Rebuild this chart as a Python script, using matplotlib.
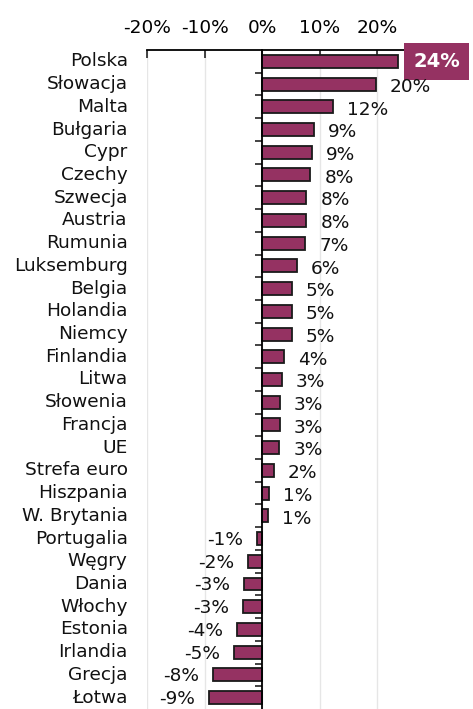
import numpy as np
import matplotlib.pyplot as plt

countries = ['Polska', 'Słowacja', 'Malta', 'Bułgaria', 'Cypr', 'Czechy', 'Szwecja',
             'Austria', 'Rumunia', 'Luksemburg', 'Belgia', 'Holandia', 'Niemcy',
             'Finlandia', 'Litwa', 'Słowenia', 'Francja', 'UE', 'Strefa euro',
             'Hiszpania', 'W. Brytania', 'Portugalia', 'Węgry', 'Dania', 'Włochy',
             'Estonia', 'Irlandia', 'Grecja', 'Łotwa']
values = [23.6, 19.8, 12.4, 9.0, 8.7, 8.4, 7.7, 7.7, 7.5, 6.1, 5.2, 5.2, 5.2,
          3.8, 3.4, 3.1, 3.1, 3.0, 2.1, 1.2, 1.0, -0.9, -2.5, -3.2, -3.3,
          -4.3, -4.8, -8.5, -9.2]
labels = ['24%', '20%', '12%', '9%', '9%', '8%', '8%', '8%', '7%', '6%', '5%', '5%',
          '5%', '4%', '3%', '3%', '3%', '3%', '2%', '1%', '1%', '-1%', '-2%', '-3%',
          '-3%', '-4%', '-5%', '-8%', '-9%']
xticks = [-20, -10, 0, 10, 20]

bar_color = '#953262'
fs = 13.3

fig = plt.figure(figsize=(4.73, 7.09), dpi=100)
ax = fig.add_axes([0.311, 0.0, 0.547, 0.9295])

y = np.arange(len(countries))
ax.barh(y, values, height=0.57, color=bar_color, edgecolor='#1a1a1a', linewidth=1.3, zorder=3)

ax.set_xlim(-20, 25)
ax.set_ylim(len(countries) - 0.5, -0.5)

# top axis
ax.xaxis.tick_top()
ax.set_xticks(xticks)
ax.set_xticklabels([f'{t}%' for t in xticks], fontsize=fs)
ax.tick_params(axis='x', direction='in', length=6, width=1.2, pad=9, color='#222222')
ax.grid(axis='x', color='#e6e6e6', linewidth=1, zorder=0)

for s in ['right', 'bottom']:
    ax.spines[s].set_visible(False)
ax.spines['top'].set_linewidth(1.3)
ax.spines['left'].set_position(('data', 0))
ax.spines['left'].set_linewidth(1.3)
ax.spines['left'].set_zorder(4)

ax.set_yticks(y[:-1] + 0.5)
ax.set_yticklabels([])
ax.tick_params(axis='y', direction='out', length=5, width=1.2, color='#222222')

# category labels
for yi, name in zip(y, countries):
    ax.annotate(name, (0, yi), xycoords=ax.get_yaxis_transform(), xytext=(-14, 0),
                textcoords='offset points', ha='right', va='center', fontsize=fs,
                color='#111111')

# value labels
for yi, v, lab in zip(y, values, labels):
    if yi == 0:
        ax.annotate(lab, (v, yi), xytext=(11, 0), textcoords='offset points',
                    ha='left', va='center', fontsize=fs + 0.7, fontweight='bold',
                    color='white', annotation_clip=False,
                    bbox=dict(boxstyle='square,pad=0.45', fc=bar_color, ec='none'))
    elif v >= 0:
        ax.annotate(lab, (v, yi), xytext=(10, -2), textcoords='offset points',
                    ha='left', va='center', fontsize=fs, color='#111111')
    else:
        ax.annotate(lab, (v, yi), xytext=(-10, -1), textcoords='offset points',
                    ha='right', va='center', fontsize=fs, color='#111111')

fig.savefig('out.png', dpi=100)
